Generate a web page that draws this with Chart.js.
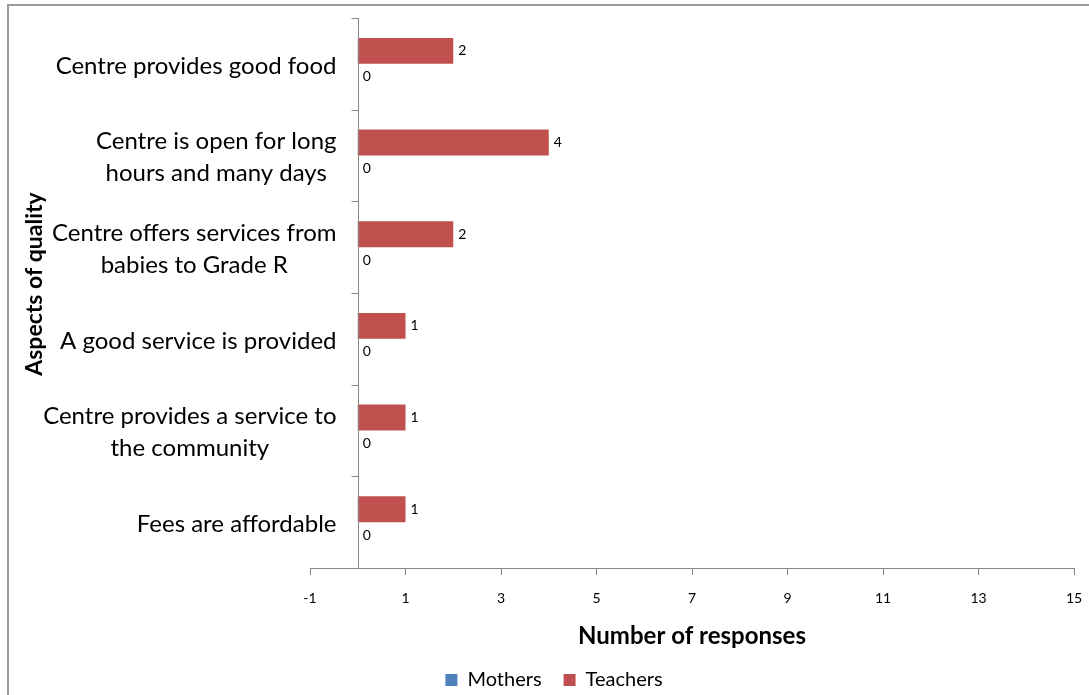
<!DOCTYPE html>
<html>
<head>
<meta charset="utf-8">
<script src="https://cdn.jsdelivr.net/npm/chart.js@4/dist/chart.umd.min.js"></script>
<style>
  html, body { margin: 0; padding: 0; background: #fff; }
  #wrap { width: 1089px; height: 695px; }
</style>
</head>
<body>
<div id="wrap"><canvas id="quality-chart"></canvas></div>
<script>
const categories = [
  ["Centre provides good food"],
  ["Centre is open for long", "hours and many days"],
  ["Centre offers services from", "babies to Grade R"],
  ["A good service is provided"],
  ["Centre provides a service to", "the community"],
  ["Fees are affordable"],
];
const mothers = [0, 0, 0, 0, 0, 0];
const teachers = [2, 4, 2, 1, 1, 1];
const xMin = -1;
const xMax = 15;
const xStep = 2;

const FONT = "Lato, 'Open Sans', sans-serif";
const AXIS_GREY = "#868686";

// draws the frame, the category axis at x = 0, category labels, y title and value labels
const excelLook = {
  id: "excelLook",
  afterLayout(chart) {
    // legend sits a little right of centre in the original
    chart.legend.left += 17;
    chart.legend.right += 17;
  },
  beforeDraw(chart) {
    const ctx = chart.ctx;
    ctx.save();
    ctx.fillStyle = "#fff";
    ctx.fillRect(0, 0, chart.width, chart.height);
    ctx.strokeStyle = "#9a9a9a";
    ctx.lineWidth = 2;
    ctx.strokeRect(8, 5, chart.width + 50, chart.height + 50);
    ctx.restore();
  },
  afterDraw(chart) {
    const ctx = chart.ctx;
    const xs = chart.scales.x;
    const ys = chart.scales.y;
    const area = chart.chartArea;
    const x0 = Math.round(xs.getPixelForValue(0)) + 0.5;

    ctx.save();
    // vertical axis line and tick marks at category boundaries
    ctx.strokeStyle = AXIS_GREY;
    ctx.lineWidth = 1;
    ctx.beginPath();
    ctx.moveTo(x0, area.top);
    ctx.lineTo(x0, area.bottom);
    const n = categories.length;
    const band = (area.bottom - area.top) / n;
    for (let i = 0; i <= n; i++) {
      const y = Math.round(area.top + band * i) + 0.5;
      ctx.moveTo(x0 - 7, y);
      ctx.lineTo(x0, y);
    }
    ctx.stroke();

    // category labels: right edge near the axis, lines centred on each other
    ctx.fillStyle = "#000";
    ctx.font = "24px " + FONT;
    ctx.textAlign = "center";
    ctx.textBaseline = "middle";
    const right = x0 - 22;
    const lineH = 32;
    categories.forEach((lines, i) => {
      const cy = ys.getPixelForValue(i) + 2;
      const w = Math.max(...lines.map((l) => ctx.measureText(l).width));
      const cx = right - w / 2;
      const top = cy - ((lines.length - 1) * lineH) / 2;
      lines.forEach((l, k) => ctx.fillText(l, cx, top + k * lineH));
    });

    // y axis title
    ctx.font = "bold 23px " + FONT;
    ctx.translate(35, (area.top + area.bottom) / 2 - 9);
    ctx.rotate(-Math.PI / 2);
    ctx.fillText("Aspects of quality", 0, 0);
    ctx.restore();

    // value labels
    ctx.save();
    ctx.fillStyle = "#000";
    ctx.font = "14px " + FONT;
    ctx.textAlign = "left";
    ctx.textBaseline = "middle";
    chart.data.datasets.forEach((ds, di) => {
      const meta = chart.getDatasetMeta(di);
      meta.data.forEach((bar, i) => {
        ctx.fillText(String(ds.data[i]), bar.x + 5, bar.y);
      });
    });
    ctx.restore();
  },
};

const chartData = {
  labels: categories.map((c) => c.join(" ")),
  datasets: [
    {
      label: "Teachers",
      data: teachers,
      backgroundColor: "#C0504D",
      categoryPercentage: 0.565,
      barPercentage: 1,
    },
    {
      label: "Mothers",
      data: mothers,
      backgroundColor: "#4F81BD",
      categoryPercentage: 0.565,
      barPercentage: 1,
    },
  ],
};

const config = {
  type: "bar",
  data: chartData,
  plugins: [excelLook],
  options: {
    indexAxis: "y",
    responsive: false,
    animation: false,
    layout: {
      padding: { top: 18, right: 15, left: 0, bottom: -5 },
    },
    plugins: {
      legend: {
        position: "bottom",
        labels: {
          boxWidth: 12,
          boxHeight: 12,
          color: "#000",
          font: { family: FONT, size: 20 },
          padding: 22,
          sort: (a, b) => b.datasetIndex - a.datasetIndex,
        },
      },
      title: { display: false },
      tooltip: { enabled: false },
    },
    scales: {
      x: {
        min: xMin,
        max: xMax,
        ticks: {
          stepSize: xStep,
          color: "#000",
          font: { family: FONT, size: 14, lineHeight: 1 },
          padding: 16,
        },
        grid: {
          drawOnChartArea: false,
          drawTicks: true,
          tickLength: 7,
          color: AXIS_GREY,
        },
        border: { display: true, color: AXIS_GREY },
        title: {
          display: true,
          text: "Number of responses",
          color: "#000",
          font: { family: FONT, size: 24, weight: "bold", lineHeight: 1 },
          padding: { top: 3, bottom: 0 },
        },
        afterFit: (scale) => {
          scale.paddingRight = 0;
        },
      },
      y: {
        grid: { display: false },
        border: { display: false },
        ticks: { display: false },
        afterFit: (scale) => {
          scale.width = 310;
        },
      },
    },
  },
};

const canvas = document.getElementById("quality-chart");
canvas.width = 1089;
canvas.height = 695;
const qualityChart = new Chart(canvas.getContext("2d"), config);
</script>
</body>
</html>
